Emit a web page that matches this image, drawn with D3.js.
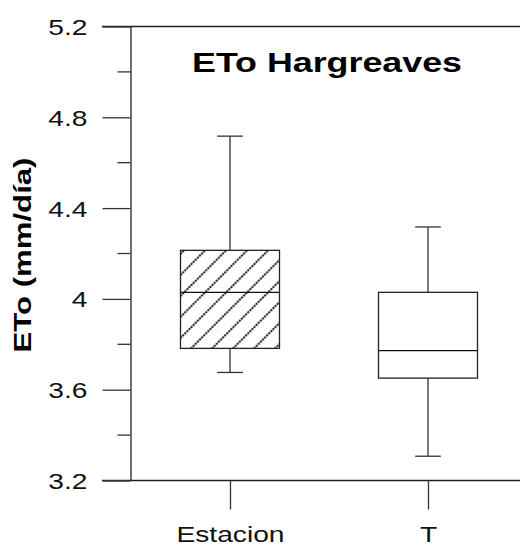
<!DOCTYPE html>
<html>
<head>
<meta charset="utf-8">
<script src="https://cdn.jsdelivr.net/npm/d3@7"></script>
<style>
  html, body { margin: 0; padding: 0; background: #fff; }
  svg { display: block; font-family: "Liberation Sans", Arial, sans-serif; }
</style>
</head>
<body>
<svg id="chart" width="520" height="546"></svg>
<script>
// Daily reference evapotranspiration (Hargreaves) summaries per source
const categories   = ["Estacion", "T"];
const whiskerLow   = [3.676, 3.307];
const quartile1    = [3.782, 3.651];
const medians      = [4.029, 3.772];
const quartile3    = [4.214, 4.029];
const whiskerHigh  = [4.717, 4.317];
const hatched      = [true, false];

const majorTicks = [3.2, 3.6, 4.0, 4.4, 4.8, 5.2];
const minorTicks = [3.4, 3.8, 4.2, 4.6, 5.0];
const tickLabels = ["3.2", "3.6", "4", "4.4", "4.8", "5.2"];

const title  = "ETo Hargreaves";
const yTitle = "ETo (mm/día)";

const boxes = categories.map((c, i) => ({
  cat: c, lo: whiskerLow[i], q1: quartile1[i], med: medians[i],
  q3: quartile3[i], hi: whiskerHigh[i], hatch: hatched[i]
}));

const svg = d3.select("#chart");
const W = 520;
const axisX = 130.5, plotTop = 26.5, plotBottom = 480.5;

const y = d3.scaleLinear().domain([3.2, 5.2]).range([plotBottom, plotTop]);
const x = d3.scalePoint().domain(categories).range([131, 527]).padding(0.5);
const boxW = x.step() * 0.5;
const capW = x.step() * 0.13;

// text in this chart is set wide; stretch glyphs horizontally
const stretch = 1.28;
function widen(sel) {
  sel.each(function () {
    const w = this.getComputedTextLength();
    d3.select(this).attr("textLength", w * stretch).attr("lengthAdjust", "spacingAndGlyphs");
  });
}

// hatch pattern
const defs = svg.append("defs");
const pat = defs.append("pattern")
  .attr("id", "hatch")
  .attr("patternUnits", "userSpaceOnUse")
  .attr("width", 14.85).attr("height", 14.85)
  .attr("patternTransform", "translate(181,0) rotate(45)");
pat.append("line")
  .attr("x1", 1).attr("y1", 0).attr("x2", 1).attr("y2", 14.85)
  .attr("stroke", "#333").attr("stroke-width", 2.1)
  .attr("stroke-dasharray", "2.2 0.8");

// frame lines top and bottom
svg.append("line").attr("x1", 102).attr("x2", W).attr("y1", plotTop).attr("y2", plotTop)
  .attr("stroke", "#222").attr("stroke-width", 1.3);
svg.append("line").attr("x1", 102).attr("x2", W).attr("y1", plotBottom).attr("y2", plotBottom)
  .attr("stroke", "#222").attr("stroke-width", 1.3);

// y axis
const yAxis = d3.axisLeft(y).tickValues(majorTicks)
  .tickFormat((d, i) => tickLabels[i]).tickSize(28).tickPadding(15).tickSizeOuter(0);
const gy = svg.append("g").attr("transform", `translate(${axisX},0)`).call(yAxis);
gy.select(".domain").attr("stroke", "#222").attr("stroke-width", 1.3);
gy.selectAll(".tick line").attr("stroke", "#333").attr("stroke-width", 1.3);
gy.selectAll(".tick text")
  .attr("font-size", 22).attr("fill", "#111").attr("dy", "0.36em")
  .attr("font-family", "Liberation Sans, Arial, sans-serif")
  .call(widen);

// minor ticks
svg.append("g").selectAll("line").data(minorTicks).join("line")
  .attr("x1", axisX - 13).attr("x2", axisX)
  .attr("y1", d => y(d)).attr("y2", d => y(d))
  .attr("stroke", "#333").attr("stroke-width", 1.3);

// x axis
const xAxis = d3.axisBottom(x).tickSize(29).tickPadding(17).tickSizeOuter(0);
const gx = svg.append("g").attr("transform", `translate(0,${plotBottom})`).call(xAxis);
gx.select(".domain").remove();
gx.selectAll(".tick line").attr("stroke", "#333").attr("stroke-width", 1.3);
gx.selectAll(".tick text")
  .attr("font-size", 22).attr("fill", "#111")
  .attr("font-family", "Liberation Sans, Arial, sans-serif")
  .call(widen);

// boxes
const g = svg.append("g");
boxes.forEach(b => {
  const cx = x(b.cat);
  const bg = g.append("g");
  // whiskers
  bg.append("line").attr("x1", cx).attr("x2", cx).attr("y1", y(b.hi)).attr("y2", y(b.q3))
    .attr("stroke", "#333").attr("stroke-width", 1.3);
  bg.append("line").attr("x1", cx).attr("x2", cx).attr("y1", y(b.q1)).attr("y2", y(b.lo))
    .attr("stroke", "#333").attr("stroke-width", 1.3);
  [b.hi, b.lo].forEach(v => {
    bg.append("line").attr("x1", cx - capW / 2).attr("x2", cx + capW / 2)
      .attr("y1", y(v)).attr("y2", y(v))
      .attr("stroke", "#333").attr("stroke-width", 1.3);
  });
  // box
  bg.append("rect")
    .attr("x", cx - boxW / 2).attr("width", boxW)
    .attr("y", y(b.q3)).attr("height", y(b.q1) - y(b.q3))
    .attr("fill", b.hatch ? "url(#hatch)" : "#fff")
    .attr("stroke", "#222").attr("stroke-width", 1.3);
  // median
  bg.append("line").attr("x1", cx - boxW / 2).attr("x2", cx + boxW / 2)
    .attr("y1", y(b.med)).attr("y2", y(b.med))
    .attr("stroke", "#111").attr("stroke-width", 1.3);
});

// title
svg.append("text")
  .attr("x", 327).attr("y", 72)
  .attr("text-anchor", "middle")
  .attr("font-size", 27).attr("font-weight", "bold").attr("fill", "#000")
  .text(title)
  .attr("textLength", 270).attr("lengthAdjust", "spacingAndGlyphs");

// y axis title
svg.append("text")
  .attr("transform", "translate(31,255) rotate(-90)")
  .attr("text-anchor", "middle")
  .attr("font-size", 24).attr("font-weight", "bold").attr("fill", "#000")
  .text(yTitle)
  .attr("textLength", 195).attr("lengthAdjust", "spacingAndGlyphs");
</script>
</body>
</html>
